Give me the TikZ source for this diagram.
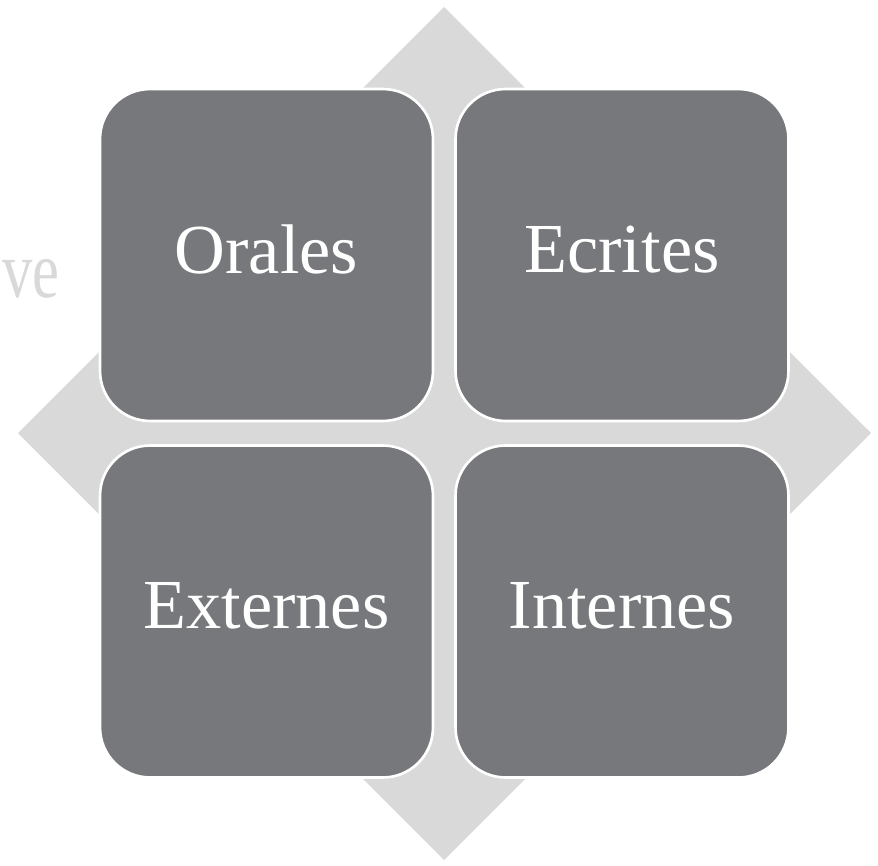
\documentclass[tikz,border=0pt]{standalone}
\usepackage{fontspec}
\setmainfont{Liberation Serif}
\usepackage{xcolor}
\usetikzlibrary{positioning}
\definecolor{boxgray}{HTML}{77787B}
\definecolor{diagray}{HTML}{D9D9D9}
\tikzset{
  gmbox/.style={rectangle, rounded corners=1cm, draw=white, line width=1.5pt,
                fill=boxgray, minimum width=6.66cm, minimum height=6.64cm,
                text=white, text depth=0.25cm, font=\fontsize{40}{48}\selectfont},
  gmbg/.style={fill=diagray},
  gmghost/.style={text=diagray, inner sep=0pt,
                  font=\fontsize{46}{54}\selectfont}
}

\begin{document}
\begin{tikzpicture}[x=0.02cm, y=-0.02cm]
  \useasboundingbox (0,0) rectangle (878,865);
  \node[gmghost, anchor=base west] (ghost) at (2,297) {\scalebox{0.75}[1]{ve}};
  % diamond behind the grid
  \fill[gmbg] (444,7) -- (871,433) -- (444,860) -- (18,433) -- cycle;
  \node[gmbox] (orales) at (266.5,255) {Orales};
  \node[gmbox] (ecrites) at (622,255) {Ecrites};
  \node[gmbox] (externes) at (266.5,611.5) {Externes};
  \node[gmbox] (internes) at (622,611.5) {Internes};
\end{tikzpicture}
\end{document}
